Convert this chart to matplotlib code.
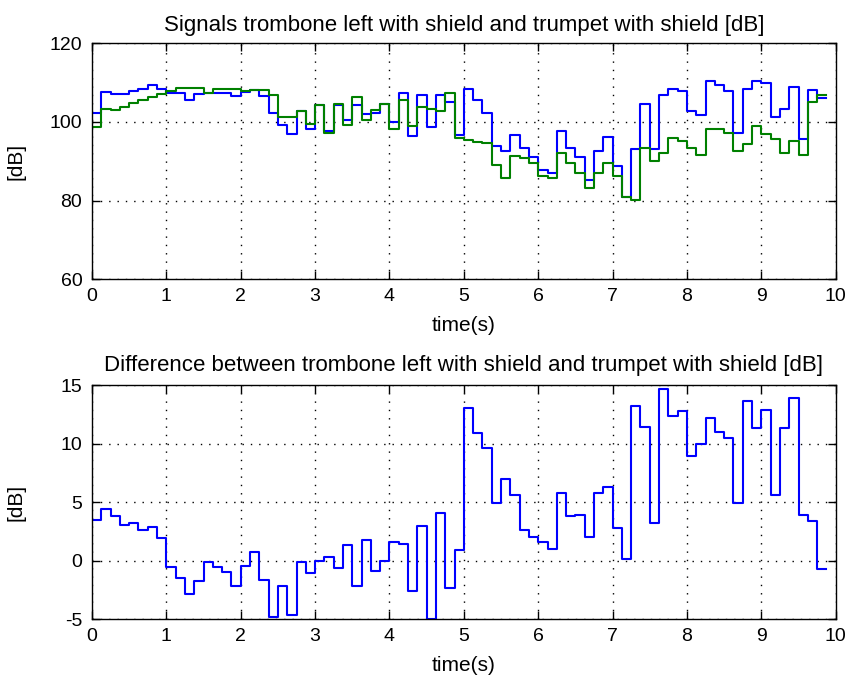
import numpy as np
import matplotlib
matplotlib.use('Agg')
from matplotlib import pyplot as plt

dt = 0.125

trombone = [102.2, 107.7, 107.0, 107.0, 107.8, 108.3, 109.5, 108.5, 107.4, 107.4,
            105.7, 107.0, 107.4, 107.4, 107.4, 106.6, 107.6, 108.1, 106.6, 102.4,
            99.2, 96.9, 102.9, 98.3, 104.2, 97.7, 104.3, 100.4, 104.3, 102.0,
            102.2, 104.6, 100.0, 107.3, 96.5, 106.8, 98.7, 106.8, 105.2, 96.8,
            108.3, 105.6, 102.2, 93.9, 92.7, 96.8, 93.5, 91.2, 87.8, 87.0,
            97.8, 93.5, 91.0, 85.2, 92.5, 96.1, 88.7, 81.0, 93.1, 104.5,
            93.1, 106.8, 108.5, 107.8, 102.7, 101.8, 110.3, 109.5, 107.8, 97.3,
            108.3, 110.3, 110.0, 101.3, 103.4, 108.9, 95.7, 108.1, 106.0]

trumpet = [98.8, 103.4, 103.0, 103.9, 104.9, 105.7, 106.4, 107.0, 107.8, 108.6,
           108.6, 108.6, 107.4, 108.3, 108.3, 108.5, 107.8, 108.1, 108.1, 106.8,
           101.2, 101.2, 102.9, 99.4, 104.2, 97.1, 104.6, 99.2, 106.3, 100.4,
           103.0, 104.6, 98.3, 105.6, 99.0, 103.8, 103.4, 102.7, 107.3, 96.0,
           95.4, 94.9, 94.6, 89.1, 85.8, 91.3, 90.9, 89.5, 86.3, 85.8,
           92.1, 89.5, 86.9, 83.1, 86.9, 89.5, 86.2, 81.0, 80.1, 93.5,
           90.0, 92.2, 96.0, 95.2, 93.5, 91.7, 98.1, 98.1, 97.3, 92.6,
           94.3, 99.0, 96.9, 95.7, 92.2, 95.2, 91.7, 105.2, 106.8]

difference = [3.47, 4.38, 3.79, 3.02, 3.19, 2.6, 2.9, 1.9, -0.56, -1.44,
              -2.88, -1.72, -0.11, -0.56, -0.99, -2.18, -0.42, 0.73, -1.61, -4.77,
              -2.18, -4.6, -0.11, -1.02, 0.0, 0.31, -0.62, 1.36, -2.18, 1.75,
              -0.88, 0.0, 1.61, 1.47, -2.57, 2.94, -4.94, 4.04, -2.29, 0.9,
              13.05, 10.9, 9.6, 4.92, 6.95, 5.65, 2.6, 2.06, 1.58, 0.96,
              5.76, 3.79, 3.9, 2.06, 5.79, 6.27, 2.77, 0.11, 13.2, 11.44,
              3.19, 14.63, 12.34, 12.77, 8.93, 10.0, 12.15, 11.02, 10.45, 4.92,
              13.6, 11.3, 12.85, 5.65, 11.3, 13.9, 3.93, 3.36, -0.71]

plt.rcParams['font.family'] = ['Liberation Sans', 'DejaVu Sans']
plt.rcParams['axes.unicode_minus'] = False


def stairs(ax, vals, color):
    t = np.arange(len(vals) + 1) * dt
    v = list(vals) + [vals[-1]]
    ax.plot(t, v, drawstyle='steps-post', color=color, lw=1.5)


def style(ax, yticks, height):
    ax.set_xlim(0, 10)
    ax.set_xticks(range(0, 11))
    ax.set_ylim(yticks[0], yticks[-1])
    ax.set_yticks(yticks)
    ax.grid(True, color='k', linestyle=(0, (1, 5)), linewidth=1.0)
    ax.tick_params(direction='in', top=True, right=True, labelsize=14, length=6, width=1.0)
    ax.tick_params(axis='x', pad=6)
    ax.tick_params(axis='y', pad=7)
    for s in ax.spines.values():
        s.set_linewidth(1.0)
    ax.set_xlabel('time(s)', fontsize=15)
    ax.set_ylabel('[dB]', fontsize=15)
    ax.xaxis.set_label_coords(0.5, -37.0 / height)
    ax.yaxis.set_label_coords(-66.0 / 743, 0.5)


fig = plt.figure(figsize=(8.58, 6.79), dpi=100)
ax1 = fig.add_axes([92 / 858, 1 - 279.3 / 679, 743.7 / 858, 236 / 679])
ax2 = fig.add_axes([92 / 858, 1 - 619.3 / 679, 743.7 / 858, 234.3 / 679])

stairs(ax1, trombone, '#0000FF')
stairs(ax1, trumpet, '#008000')
style(ax1, [60, 80, 100, 120], 236)
ax1.set_title('Signals trombone left with shield and trumpet with shield [dB]', fontsize=16, pad=9)

stairs(ax2, difference, '#0000FF')
style(ax2, [-5, 0, 5, 10, 15], 234.3)
ax2.set_title('Difference between trombone left with shield and trumpet with shield [dB]', fontsize=16, pad=10)

fig.savefig('out.png', dpi=100)
